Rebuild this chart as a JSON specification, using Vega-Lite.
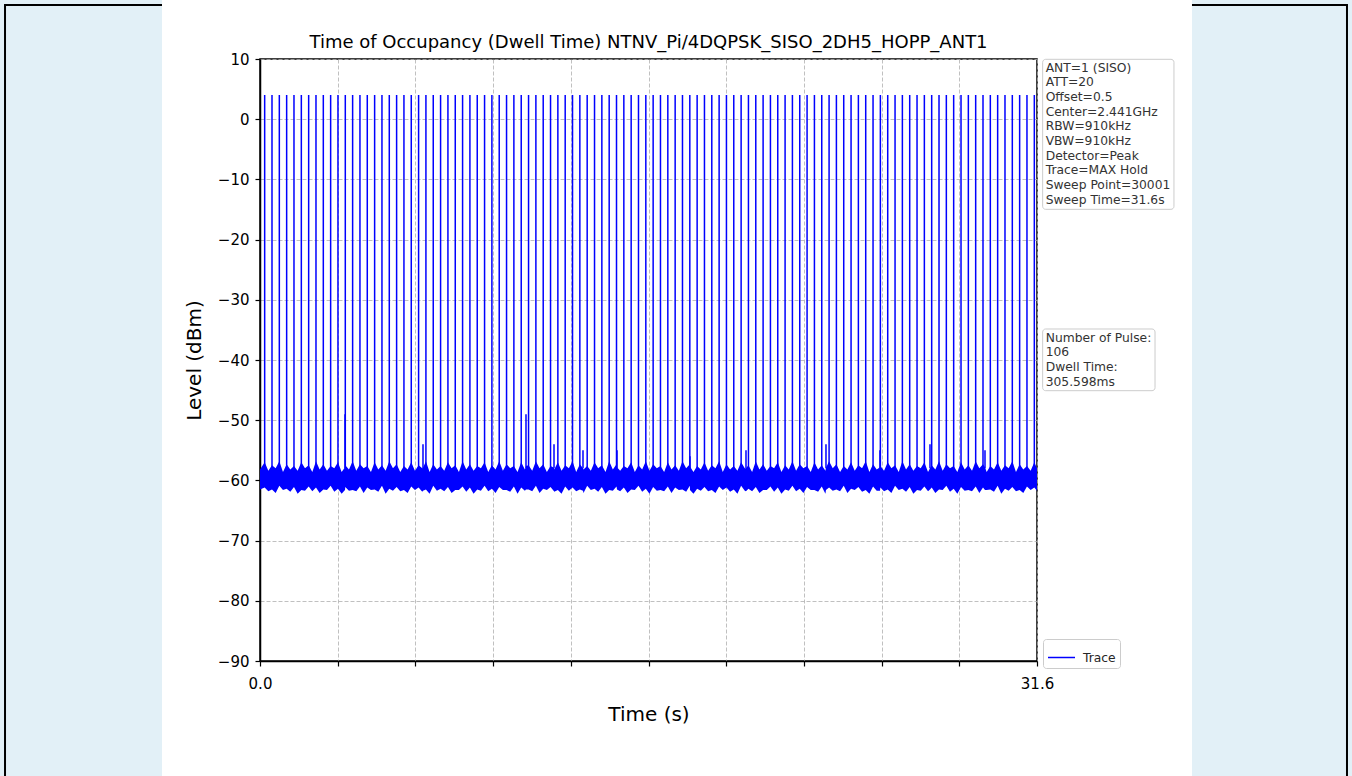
{
"$schema": "https://vega.github.io/schema/vega-lite/v6.json",
"width": 777, "height": 602,
"autosize": {"type": "none"},
"padding": {"left": 260, "top": 59, "right": 315, "bottom": 115},
"background": "white",
"config": {"view": {"stroke": "black", "strokeWidth": 1.5}, "font": "DejaVu Sans"},
"datasets": {
"trace": [
{"t":0.0,"lo":-61.5,"hi":-58.2},
{"t":0.190,"lo":-61.2,"hi":-57.0,"top":4},{"t":0.339,"lo":-61.8,"hi":-58.4},
{"t":0.488,"lo":-61.5,"hi":-57.5,"top":4},{"t":0.637,"lo":-62.1,"hi":-58.0},
{"t":0.786,"lo":-60.9,"hi":-56.8,"top":4},{"t":0.935,"lo":-61.6,"hi":-58.6},
{"t":1.084,"lo":-61.4,"hi":-57.3,"top":4},{"t":1.233,"lo":-61.9,"hi":-58.2},
{"t":1.382,"lo":-61.1,"hi":-57.6,"top":4},{"t":1.531,"lo":-62.2,"hi":-58.4},
{"t":1.681,"lo":-61.6,"hi":-57.0,"top":4},{"t":1.830,"lo":-61.7,"hi":-58.0},
{"t":1.979,"lo":-61.0,"hi":-57.5,"top":4},{"t":2.128,"lo":-61.8,"hi":-58.6},
{"t":2.277,"lo":-61.2,"hi":-56.8,"top":4},{"t":2.426,"lo":-62.1,"hi":-58.2},
{"t":2.575,"lo":-61.5,"hi":-57.3,"top":4},{"t":2.724,"lo":-61.6,"hi":-58.4},
{"t":2.873,"lo":-60.9,"hi":-57.6,"top":4},{"t":3.022,"lo":-61.9,"hi":-58.0},
{"t":3.171,"lo":-61.4,"hi":-57.0,"top":4},{"t":3.320,"lo":-62.2,"hi":-58.6},
{"t":3.457,"lo":-61.6,"hi":-57.8,"top":-49},
{"t":3.469,"lo":-61.1,"hi":-57.5,"top":4},{"t":3.618,"lo":-61.7,"hi":-58.2},
{"t":3.767,"lo":-61.6,"hi":-56.8,"top":4},{"t":3.916,"lo":-61.8,"hi":-58.4},
{"t":4.065,"lo":-61.0,"hi":-57.3,"top":4},{"t":4.214,"lo":-62.1,"hi":-58.0},
{"t":4.363,"lo":-61.2,"hi":-57.6,"top":4},{"t":4.512,"lo":-61.6,"hi":-58.6},
{"t":4.662,"lo":-61.5,"hi":-57.0,"top":4},{"t":4.811,"lo":-61.9,"hi":-58.2},
{"t":4.960,"lo":-60.9,"hi":-57.5,"top":4},{"t":5.109,"lo":-62.2,"hi":-58.4},
{"t":5.258,"lo":-61.4,"hi":-56.8,"top":4},{"t":5.407,"lo":-61.7,"hi":-58.0},
{"t":5.556,"lo":-61.1,"hi":-57.3,"top":4},{"t":5.705,"lo":-61.8,"hi":-58.6},
{"t":5.854,"lo":-61.6,"hi":-57.6,"top":4},{"t":6.003,"lo":-62.1,"hi":-58.2},
{"t":6.152,"lo":-61.0,"hi":-57.0,"top":4},{"t":6.301,"lo":-61.6,"hi":-58.4},
{"t":6.450,"lo":-61.2,"hi":-57.5,"top":4},{"t":6.599,"lo":-61.9,"hi":-58.0},
{"t":6.629,"lo":-61.7,"hi":-57.9,"top":-54},
{"t":6.748,"lo":-61.5,"hi":-56.8,"top":4},{"t":6.897,"lo":-62.2,"hi":-58.6},
{"t":7.046,"lo":-60.9,"hi":-57.3,"top":4},{"t":7.195,"lo":-61.7,"hi":-58.2},
{"t":7.344,"lo":-61.4,"hi":-57.6,"top":4},{"t":7.493,"lo":-61.8,"hi":-58.4},
{"t":7.643,"lo":-61.1,"hi":-57.0,"top":4},{"t":7.792,"lo":-62.1,"hi":-58.0},
{"t":7.941,"lo":-61.6,"hi":-57.5,"top":4},{"t":8.090,"lo":-61.6,"hi":-58.6},
{"t":8.239,"lo":-61.0,"hi":-56.8,"top":4},{"t":8.388,"lo":-61.9,"hi":-58.2},
{"t":8.537,"lo":-61.2,"hi":-57.3,"top":4},{"t":8.686,"lo":-62.2,"hi":-58.4},
{"t":8.835,"lo":-61.5,"hi":-57.6,"top":4},{"t":8.984,"lo":-61.7,"hi":-58.0},
{"t":9.133,"lo":-60.9,"hi":-57.0,"top":4},{"t":9.282,"lo":-61.8,"hi":-58.6},
{"t":9.431,"lo":-61.4,"hi":-57.5,"top":4},{"t":9.580,"lo":-62.1,"hi":-58.2},
{"t":9.729,"lo":-61.1,"hi":-56.8,"top":4},{"t":9.878,"lo":-61.6,"hi":-58.4},
{"t":10.027,"lo":-61.6,"hi":-57.3,"top":4},{"t":10.176,"lo":-61.9,"hi":-58.0},
{"t":10.325,"lo":-61.0,"hi":-57.6,"top":4},{"t":10.474,"lo":-62.2,"hi":-58.6},
{"t":10.624,"lo":-61.2,"hi":-57.0,"top":4},{"t":10.773,"lo":-61.7,"hi":-58.2},
{"t":10.818,"lo":-61.5,"hi":-57.6,"top":-49},
{"t":10.922,"lo":-61.5,"hi":-57.5,"top":4},{"t":11.071,"lo":-61.8,"hi":-58.4},
{"t":11.220,"lo":-60.9,"hi":-56.8,"top":4},{"t":11.369,"lo":-62.1,"hi":-58.0},
{"t":11.518,"lo":-61.4,"hi":-57.3,"top":4},{"t":11.667,"lo":-61.6,"hi":-58.6},
{"t":11.816,"lo":-61.1,"hi":-57.6,"top":4},
{"t":11.957,"lo":-61.8,"hi":-57.9,"top":-54},{"t":11.965,"lo":-61.9,"hi":-58.2},
{"t":12.114,"lo":-61.6,"hi":-57.0,"top":4},{"t":12.263,"lo":-62.2,"hi":-58.4},
{"t":12.412,"lo":-61.0,"hi":-57.5,"top":4},{"t":12.561,"lo":-61.7,"hi":-58.0},
{"t":12.710,"lo":-61.2,"hi":-56.8,"top":4},{"t":12.859,"lo":-61.8,"hi":-58.6},
{"t":13.008,"lo":-61.5,"hi":-57.3,"top":4},
{"t":13.136,"lo":-61.7,"hi":-58.0,"top":-55},{"t":13.157,"lo":-62.1,"hi":-58.2},
{"t":13.306,"lo":-60.9,"hi":-57.6,"top":4},{"t":13.455,"lo":-61.6,"hi":-58.4},
{"t":13.605,"lo":-61.4,"hi":-57.0,"top":4},{"t":13.754,"lo":-61.9,"hi":-58.0},
{"t":13.903,"lo":-61.1,"hi":-57.5,"top":4},{"t":14.052,"lo":-62.2,"hi":-58.6},
{"t":14.201,"lo":-61.6,"hi":-56.8,"top":4},{"t":14.350,"lo":-61.7,"hi":-58.2},
{"t":14.499,"lo":-61.0,"hi":-57.3,"top":4},
{"t":14.519,"lo":-61.5,"hi":-57.8,"top":-55},{"t":14.648,"lo":-61.8,"hi":-58.4},
{"t":14.797,"lo":-61.2,"hi":-57.6,"top":4},{"t":14.946,"lo":-62.1,"hi":-58.0},
{"t":15.095,"lo":-61.5,"hi":-57.0,"top":4},{"t":15.244,"lo":-61.6,"hi":-58.6},
{"t":15.393,"lo":-60.9,"hi":-57.5,"top":4},{"t":15.542,"lo":-61.9,"hi":-58.2},
{"t":15.691,"lo":-61.4,"hi":-56.8,"top":4},{"t":15.840,"lo":-62.2,"hi":-58.4},
{"t":15.989,"lo":-61.1,"hi":-57.3,"top":4},{"t":16.138,"lo":-61.7,"hi":-58.0},
{"t":16.287,"lo":-61.6,"hi":-57.6,"top":4},{"t":16.436,"lo":-61.8,"hi":-58.6},
{"t":16.586,"lo":-61.0,"hi":-57.0,"top":4},{"t":16.735,"lo":-62.1,"hi":-58.2},
{"t":16.884,"lo":-61.2,"hi":-57.5,"top":4},{"t":17.033,"lo":-61.6,"hi":-58.4},
{"t":17.182,"lo":-61.5,"hi":-56.8,"top":4},{"t":17.331,"lo":-61.9,"hi":-58.0},
{"t":17.480,"lo":-60.9,"hi":-57.3,"top":4},
{"t":17.487,"lo":-61.6,"hi":-57.7,"top":-56},{"t":17.629,"lo":-62.2,"hi":-58.6},
{"t":17.778,"lo":-61.4,"hi":-57.6,"top":4},{"t":17.927,"lo":-61.7,"hi":-58.2},
{"t":18.076,"lo":-61.1,"hi":-57.0,"top":4},{"t":18.225,"lo":-61.8,"hi":-58.4},
{"t":18.374,"lo":-61.6,"hi":-57.5,"top":4},{"t":18.523,"lo":-62.1,"hi":-58.0},
{"t":18.672,"lo":-61.0,"hi":-56.8,"top":4},{"t":18.821,"lo":-61.6,"hi":-58.6},
{"t":18.970,"lo":-61.2,"hi":-57.3,"top":4},{"t":19.119,"lo":-61.9,"hi":-58.2},
{"t":19.268,"lo":-61.5,"hi":-57.6,"top":4},{"t":19.417,"lo":-62.2,"hi":-58.4},
{"t":19.567,"lo":-60.9,"hi":-57.0,"top":4},{"t":19.716,"lo":-61.7,"hi":-58.0},
{"t":19.765,"lo":-61.8,"hi":-58.0,"top":-55},
{"t":19.865,"lo":-61.4,"hi":-57.5,"top":4},{"t":20.014,"lo":-61.8,"hi":-58.6},
{"t":20.163,"lo":-61.1,"hi":-56.8,"top":4},{"t":20.312,"lo":-62.1,"hi":-58.2},
{"t":20.461,"lo":-61.6,"hi":-57.3,"top":4},{"t":20.610,"lo":-61.6,"hi":-58.4},
{"t":20.759,"lo":-61.0,"hi":-57.6,"top":4},{"t":20.908,"lo":-61.9,"hi":-58.0},
{"t":21.057,"lo":-61.2,"hi":-57.0,"top":4},{"t":21.206,"lo":-62.2,"hi":-58.6},
{"t":21.355,"lo":-61.5,"hi":-57.5,"top":4},{"t":21.504,"lo":-61.7,"hi":-58.2},
{"t":21.653,"lo":-60.9,"hi":-56.8,"top":4},{"t":21.802,"lo":-61.8,"hi":-58.4},
{"t":21.951,"lo":-61.4,"hi":-57.3,"top":4},{"t":22.100,"lo":-62.1,"hi":-58.0},
{"t":22.249,"lo":-61.1,"hi":-57.6,"top":4},{"t":22.398,"lo":-61.6,"hi":-58.6},
{"t":22.548,"lo":-61.6,"hi":-57.0,"top":4},{"t":22.697,"lo":-61.9,"hi":-58.2},
{"t":22.846,"lo":-61.0,"hi":-57.5,"top":4},{"t":22.995,"lo":-62.2,"hi":-58.4},
{"t":23.018,"lo":-61.6,"hi":-57.9,"top":-54},
{"t":23.144,"lo":-61.2,"hi":-56.8,"top":4},{"t":23.293,"lo":-61.7,"hi":-58.0},
{"t":23.442,"lo":-61.5,"hi":-57.3,"top":4},{"t":23.591,"lo":-61.8,"hi":-58.6},
{"t":23.740,"lo":-60.9,"hi":-57.6,"top":4},{"t":23.889,"lo":-62.1,"hi":-58.2},
{"t":24.038,"lo":-61.4,"hi":-57.0,"top":4},{"t":24.187,"lo":-61.6,"hi":-58.4},
{"t":24.336,"lo":-61.1,"hi":-57.5,"top":4},{"t":24.485,"lo":-61.9,"hi":-58.0},
{"t":24.634,"lo":-61.6,"hi":-56.8,"top":4},{"t":24.783,"lo":-62.2,"hi":-58.6},
{"t":24.932,"lo":-61.0,"hi":-57.3,"top":4},{"t":25.081,"lo":-61.7,"hi":-58.2},
{"t":25.214,"lo":-61.7,"hi":-57.8,"top":-55},
{"t":25.230,"lo":-61.2,"hi":-57.6,"top":4},{"t":25.379,"lo":-61.8,"hi":-58.4},
{"t":25.529,"lo":-61.5,"hi":-57.0,"top":4},{"t":25.678,"lo":-62.1,"hi":-58.0},
{"t":25.827,"lo":-60.9,"hi":-57.5,"top":4},{"t":25.976,"lo":-61.6,"hi":-58.6},
{"t":26.125,"lo":-61.4,"hi":-56.8,"top":4},{"t":26.274,"lo":-61.9,"hi":-58.2},
{"t":26.423,"lo":-61.1,"hi":-57.3,"top":4},{"t":26.572,"lo":-62.2,"hi":-58.4},
{"t":26.721,"lo":-61.6,"hi":-57.6,"top":4},{"t":26.870,"lo":-61.7,"hi":-58.0},
{"t":27.019,"lo":-61.0,"hi":-57.0,"top":4},{"t":27.168,"lo":-61.8,"hi":-58.6},
{"t":27.248,"lo":-61.5,"hi":-58.0,"top":-54},
{"t":27.317,"lo":-61.2,"hi":-57.5,"top":4},{"t":27.466,"lo":-62.1,"hi":-58.2},
{"t":27.615,"lo":-61.5,"hi":-56.8,"top":4},{"t":27.764,"lo":-61.6,"hi":-58.4},
{"t":27.913,"lo":-60.9,"hi":-57.3,"top":4},{"t":28.062,"lo":-61.9,"hi":-58.0},
{"t":28.211,"lo":-61.4,"hi":-57.6,"top":4},{"t":28.360,"lo":-62.2,"hi":-58.6},
{"t":28.510,"lo":-61.1,"hi":-57.0,"top":4},{"t":28.659,"lo":-61.7,"hi":-58.2},
{"t":28.808,"lo":-61.6,"hi":-57.5,"top":4},{"t":28.957,"lo":-61.8,"hi":-58.4},
{"t":29.106,"lo":-61.0,"hi":-56.8,"top":4},{"t":29.255,"lo":-62.1,"hi":-58.0},
{"t":29.404,"lo":-61.2,"hi":-57.3,"top":4},
{"t":29.485,"lo":-61.6,"hi":-57.8,"top":-55},{"t":29.553,"lo":-61.6,"hi":-58.6},
{"t":29.702,"lo":-61.5,"hi":-57.6,"top":4},{"t":29.851,"lo":-61.9,"hi":-58.2},
{"t":30.000,"lo":-60.9,"hi":-57.0,"top":4},{"t":30.149,"lo":-62.2,"hi":-58.4},
{"t":30.298,"lo":-61.4,"hi":-57.5,"top":4},{"t":30.447,"lo":-61.7,"hi":-58.0},
{"t":30.596,"lo":-61.1,"hi":-56.8,"top":4},{"t":30.745,"lo":-61.8,"hi":-58.6},
{"t":30.894,"lo":-61.6,"hi":-57.3,"top":4},{"t":31.043,"lo":-62.1,"hi":-58.2},
{"t":31.192,"lo":-61.0,"hi":-57.6,"top":4},{"t":31.341,"lo":-61.6,"hi":-58.4},
{"t":31.491,"lo":-61.2,"hi":-57.0,"top":4},{"t":31.6,"lo":-61.7,"hi":-58.0}
]
},
"layer": [
{"data": {"values": [{}]}, "mark": {"type": "rect", "color": "#e2f0f7"},
 "encoding": {"x": {"datum": -11.39}, "x2": {"datum": -3.986}, "y": {"datum": 23.12}, "y2": {"datum": -113.09}}},
{"data": {"values": [{}]}, "mark": {"type": "rect", "color": "#e2f0f7"},
 "encoding": {"x": {"datum": 37.903}, "x2": {"datum": 45.14}, "y": {"datum": 23.12}, "y2": {"datum": -113.09}}},
{"data": {"values": [{}]}, "mark": {"type": "rule", "color": "black", "strokeWidth": 2},
 "encoding": {"x": {"datum": -10.37}, "y": {"datum": 18.97}, "y2": {"datum": -113.09}}},
{"data": {"values": [{}]}, "mark": {"type": "rule", "color": "black", "strokeWidth": 2},
 "encoding": {"x": {"datum": 44.207}, "y": {"datum": 18.97}, "y2": {"datum": -113.09}}},
{"data": {"values": [{}]}, "mark": {"type": "rule", "color": "black", "strokeWidth": 2},
 "encoding": {"x": {"datum": -10.41}, "x2": {"datum": -3.986}, "y": {"datum": 18.97}}},
{"data": {"values": [{}]}, "mark": {"type": "rule", "color": "black", "strokeWidth": 2},
 "encoding": {"x": {"datum": 37.903}, "x2": {"datum": 44.247}, "y": {"datum": 18.97}}},
{"data": {"values": [{}]}, "mark": {"type": "text", "align": "center", "baseline": "alphabetic", "fontSize": 18, "font": "DejaVu Sans", "color": "black",
  "text": "Time of Occupancy (Dwell Time) NTNV_Pi/4DQPSK_SISO_2DH5_HOPP_ANT1"},
 "encoding": {"x": {"datum": 15.8}, "y": {"datum": 11.8}}},
{"data": {"name": "trace"},
 "mark": {"type": "area", "color": "#0000ff", "opacity": 1},
 "encoding": {
  "x": {"field": "t", "type": "quantitative", "scale": {"domain": [0, 31.6], "nice": false, "zero": false},
   "axis": {"title": "Time (s)", "values": [0, 3.16, 6.32, 9.48, 12.64, 15.8, 18.96, 22.12, 25.28, 28.44, 31.6],
    "labelExpr": "datum.value < 0.01 || datum.value > 31.5 ? format(datum.value, '.1f') : ''",
    "grid": true, "gridDash": [4, 2], "gridColor": "#b0b0b0", "gridWidth": 0.8,
    "tickSize": 5, "tickColor": "black", "tickWidth": 1.2, "domainColor": "black", "domainWidth": 1.5,
    "labelFontSize": 15, "labelFont": "DejaVu Sans", "labelColor": "black", "labelPadding": 10,
    "labelFlush": false, "labelOverlap": false,
    "titleFontSize": 20, "titleFont": "DejaVu Sans", "titleFontWeight": "normal", "titleColor": "black", "titlePadding": 13}},
  "y": {"field": "lo", "type": "quantitative", "scale": {"domain": [-90, 10], "nice": false, "zero": false},
   "axis": {"title": "Level (dBm)", "values": [-90, -80, -70, -60, -50, -40, -30, -20, -10, 0, 10],
    "grid": true, "gridDash": [4, 2], "gridColor": "#b0b0b0", "gridWidth": 0.8,
    "tickSize": 5, "tickColor": "black", "tickWidth": 1.2, "domainColor": "black", "domainWidth": 1.5,
    "labelFontSize": 15, "labelFont": "DejaVu Sans", "labelColor": "black", "labelPadding": 6,
    "titleFontSize": 20, "titleFont": "DejaVu Sans", "titleFontWeight": "normal", "titleColor": "black", "titlePadding": 13}},
  "y2": {"field": "hi"}
 }},
{"data": {"name": "trace"},
 "transform": [{"filter": "isValid(datum.top)"}],
 "mark": {"type": "rule", "strokeWidth": 1.5},
 "encoding": {
  "x": {"field": "t", "type": "quantitative"},
  "y": {"field": "top", "type": "quantitative"},
  "y2": {"datum": -58},
  "color": {"datum": "Trace", "type": "nominal", "scale": {"range": ["#0000ff"]},
   "legend": {"orient": "none", "legendX": 783, "legendY": 580, "title": null, "symbolType": "stroke",
    "symbolSize": 729, "symbolStrokeWidth": 1.5, "labelFontSize": 12.3, "labelFont": "DejaVu Sans",
    "labelColor": "#262626", "padding": 4, "strokeColor": "#cccccc", "fillColor": "white", "cornerRadius": 3, "labelOffset": 7}}
 }},
{"data": {"values": [{}]}, "mark": {"type": "rect", "fill": "white", "stroke": "#cccccc", "strokeWidth": 1, "cornerRadius": 3},
 "encoding": {"x": {"datum": 31.83}, "x2": {"datum": 37.17}, "y": {"datum": 9.95}, "y2": {"datum": -14.97}}},
{"data": {"values": [{}]}, "mark": {"type": "text", "align": "left", "baseline": "alphabetic", "fontSize": 12.3, "font": "DejaVu Sans", "lineHeight": 14.67, "color": "#333333",
  "text": ["ANT=1 (SISO)", "ATT=20", "Offset=0.5", "Center=2.441GHz", "RBW=910kHz", "VBW=910kHz", "Detector=Peak", "Trace=MAX Hold", "Sweep Point=30001", "Sweep Time=31.6s"]},
 "encoding": {"x": {"datum": 31.953}, "y": {"datum": 7.89}}},
{"data": {"values": [{}]}, "mark": {"type": "rect", "fill": "white", "stroke": "#cccccc", "strokeWidth": 1, "cornerRadius": 3},
 "encoding": {"x": {"datum": 31.83}, "x2": {"datum": 36.40}, "y": {"datum": -34.85}, "y2": {"datum": -45.10}}},
{"data": {"values": [{}]}, "mark": {"type": "text", "align": "left", "baseline": "alphabetic", "fontSize": 12.3, "font": "DejaVu Sans", "lineHeight": 14.67, "color": "#333333",
  "text": ["Number of Pulse:", "106", "Dwell Time:", "305.598ms"]},
 "encoding": {"x": {"datum": 31.953}, "y": {"datum": -36.96}}}
]
}
